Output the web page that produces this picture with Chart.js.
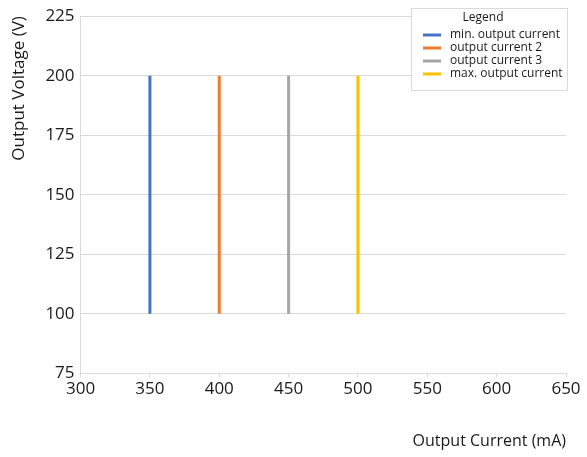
<!DOCTYPE html>
<html>
<head>
<meta charset="utf-8">
<script src="https://cdn.jsdelivr.net/npm/chart.js@4.4.1/dist/chart.umd.min.js"></script>
<style>
  html, body { margin: 0; padding: 0; background: #fff; }
  #wrap { width: 587px; height: 457px; }
</style>
</head>
<body>
<div id="wrap"><canvas id="chart"></canvas></div>
<script>
var seriesNames = ['min. output current', 'output current 2', 'output current 3', 'max. output current'];
var currents = [350, 400, 450, 500];
var voltageLow = [100, 100, 100, 100];
var voltageHigh = [200, 200, 200, 200];
var colors = ['#4472C4', '#ED7D31', '#A5A5A5', '#FFC000'];

var datasets = [];
for (var i in seriesNames) {
  datasets.push({
    label: seriesNames[i],
    data: [{x: currents[i], y: voltageLow[i]}, {x: currents[i], y: voltageHigh[i]}],
    borderColor: colors[i],
    backgroundColor: colors[i],
    borderWidth: 3,
    showLine: true,
    pointRadius: 0
  });
}

// legend box drawn over the plot, top right
var boxLegend = {
  id: 'boxLegend',
  afterDraw: function(chart) {
    var ctx = chart.ctx;
    var x0 = 411, y0 = 8, w = 156, h = 82;
    ctx.save();
    ctx.fillStyle = '#fff';
    ctx.fillRect(x0, y0, w, h);
    ctx.strokeStyle = '#d9d9d9';
    ctx.lineWidth = 1;
    ctx.strokeRect(x0 + 0.5, y0 + 0.5, w, h);
    ctx.fillStyle = '#1a1a1a';
    ctx.textBaseline = 'middle';
    ctx.textAlign = 'center';
    ctx.font = '12px "Open Sans"';
    ctx.fillText('Legend', x0 + w / 2 - 6, y0 + 10);
    ctx.textAlign = 'left';
    chart.data.datasets.forEach(function(ds, k) {
      var yy = y0 + 27 + k * 13;
      ctx.strokeStyle = ds.borderColor;
      ctx.lineWidth = 3;
      ctx.beginPath();
      ctx.moveTo(x0 + 12, yy);
      ctx.lineTo(x0 + 30, yy);
      ctx.stroke();
      ctx.fillStyle = '#1a1a1a';
      ctx.fillText(ds.label, x0 + 39, yy);
    });
    ctx.restore();
  }
};

var ctx = document.getElementById('chart');
new Chart(ctx, {
  type: 'scatter',
  data: { datasets: datasets },
  plugins: [boxLegend],
  options: {
    responsive: true,
    maintainAspectRatio: false,
    animation: false,
    layout: { padding: { top: 2, right: 21, left: 9, bottom: 6 } },
    plugins: {
      legend: { display: false },
      tooltip: { enabled: false }
    },
    scales: {
      x: {
        type: 'linear',
        min: 300,
        max: 650,
        ticks: { stepSize: 50, color: '#1a1a1a', padding: 2, font: { family: 'Open Sans', size: 17 } },
        grid: { display: true, drawOnChartArea: false, color: '#d9d9d9', tickLength: 4 },
        border: { color: '#d9d9d9' },
        title: {
          display: true,
          text: 'Output Current (mA)',
          align: 'end',
          color: '#1a1a1a',
          padding: { top: 30, bottom: 0 },
          font: { family: 'Open Sans', size: 16 }
        }
      },
      y: {
        min: 75,
        max: 225,
        ticks: { stepSize: 25, color: '#1a1a1a', padding: 6, font: { family: 'Open Sans', size: 17 } },
        grid: { color: '#d9d9d9', drawTicks: false },
        border: { color: '#d9d9d9' },
        title: {
          display: true,
          text: 'Output Voltage (V)',
          align: 'end',
          color: '#1a1a1a',
          padding: { top: 0, bottom: 10 },
          font: { family: 'Open Sans', size: 17 }
        }
      }
    }
  }
});
</script>
</body>
</html>
